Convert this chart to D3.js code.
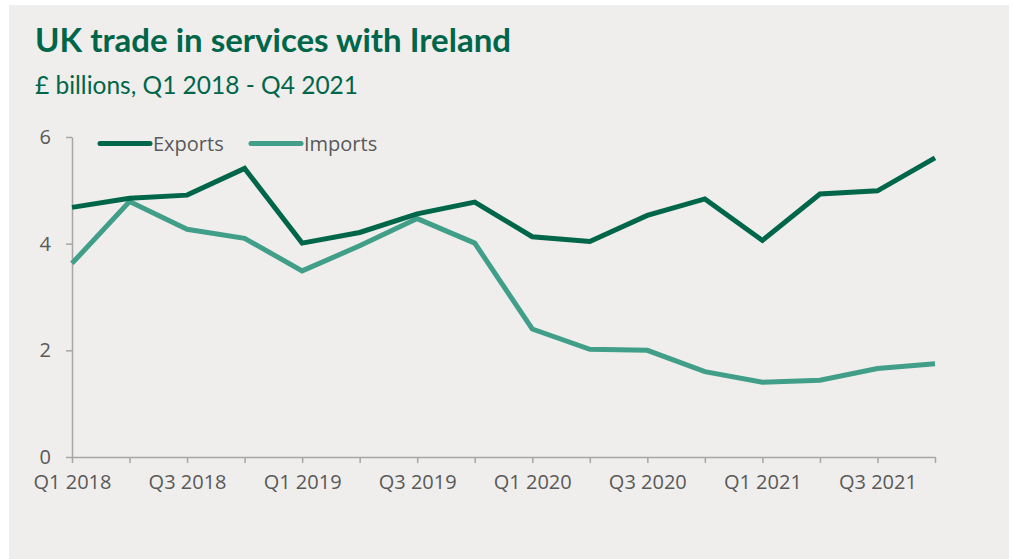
<!DOCTYPE html>
<html>
<head>
<meta charset="utf-8">
<script src="https://cdn.jsdelivr.net/npm/d3@7"></script>
<style>
  html, body { margin: 0; padding: 0; background: #ffffff; }
  svg { display: block; }
</style>
</head>
<body>
<svg id="chart" width="1013" height="559"></svg>
<script>
// Quarterly UK trade in services with Ireland, £ billions
const quarters = [
  "Q1 2018", "Q2 2018", "Q3 2018", "Q4 2018",
  "Q1 2019", "Q2 2019", "Q3 2019", "Q4 2019",
  "Q1 2020", "Q2 2020", "Q3 2020", "Q4 2020",
  "Q1 2021", "Q2 2021", "Q3 2021", "Q4 2021"
];
const exportsValues = [4.68, 4.85, 4.91, 5.41, 4.01, 4.21, 4.56, 4.78, 4.13, 4.04, 4.53, 4.84, 4.06, 4.93, 4.99, 5.61];
const importsValues = [3.63, 4.79, 4.27, 4.10, 3.49, 3.96, 4.47, 4.01, 2.40, 2.02, 2.00, 1.60, 1.40, 1.44, 1.66, 1.75];
const yTicks = [0, 2, 4, 6];
const xTickLabels = ["Q1 2018", "Q3 2018", "Q1 2019", "Q3 2019", "Q1 2020", "Q3 2020", "Q1 2021", "Q3 2021"];

const seriesList = [
  { name: "Exports", values: exportsValues, color: "#00664a" },
  { name: "Imports", values: importsValues, color: "#419e88" }
];

const svg = d3.select("#chart");
const W = 1013, H = 559;
const margin = { left: 72, right: 78, top: 137, bottom: 102 };

// Panel background
svg.append("rect")
  .attr("x", 9).attr("y", 5)
  .attr("width", 1000).attr("height", H - 5)
  .attr("fill", "#efeeec");

// Title and subtitle
svg.append("text")
  .attr("x", 35).attr("y", 52)
  .attr("font-family", "Lato, 'Noto Sans', sans-serif")
  .attr("font-weight", 700)
  .attr("font-size", 33)
  .attr("fill", "#00664a")
  .text("UK trade in services with Ireland");

svg.append("text")
  .attr("x", 35).attr("y", 94)
  .attr("font-family", "Lato, 'Noto Sans', sans-serif")
  .attr("font-size", 24.5)
  .attr("fill", "#00664a")
  .text("£ billions, Q1 2018 - Q4 2021");

const x = d3.scalePoint()
  .domain(quarters)
  .range([margin.left, W - margin.right]);

const y = d3.scaleLinear()
  .domain([0, 6])
  .range([H - margin.bottom, margin.top]);

const axisColor = "#a6a6a6";
const labelColor = "#595959";
const tickFont = "'Open Sans', 'Noto Sans', sans-serif";

// Y axis
const yAxis = svg.append("g")
  .attr("transform", `translate(${margin.left},0)`)
  .call(d3.axisLeft(y).tickValues(yTicks).tickSize(6).tickSizeOuter(0).tickPadding(15).tickFormat(d3.format("d")));

// X axis
const xAxis = svg.append("g")
  .attr("transform", `translate(0,${H - margin.bottom})`)
  .call(d3.axisBottom(x)
    .tickSize(6).tickSizeOuter(0).tickPadding(12)
    .tickFormat(d => xTickLabels.includes(d) ? d : ""));

[yAxis, xAxis].forEach(g => {
  g.select(".domain").attr("stroke", axisColor).attr("stroke-width", 1.5);
  g.selectAll(".tick line").attr("stroke", axisColor).attr("stroke-width", 1.5);
  g.selectAll(".tick text")
    .attr("fill", labelColor)
    .attr("font-family", tickFont)
    .attr("font-size", 20);
});

// Series lines
const line = d3.line()
  .x((d, i) => x(quarters[i]))
  .y(d => y(d));

seriesList.slice().reverse().forEach(s => {
  svg.append("path")
    .datum(s.values)
    .attr("fill", "none")
    .attr("stroke", s.color)
    .attr("stroke-width", 5)
    .attr("stroke-linejoin", "miter")
    .attr("d", line);
});

// Legend
const legendItems = [
  { s: seriesList[0], x0: 100 },
  { s: seriesList[1], x0: 251 }
];
const legendY = 143.5;
legendItems.forEach(({ s, x0 }) => {
  svg.append("line")
    .attr("x1", x0).attr("x2", x0 + 50)
    .attr("y1", legendY).attr("y2", legendY)
    .attr("stroke", s.color)
    .attr("stroke-width", 5)
    .attr("stroke-linecap", "round");
  svg.append("text")
    .attr("x", x0 + 53).attr("y", legendY)
    .attr("dy", "0.35em")
    .attr("font-family", tickFont)
    .attr("font-size", 20)
    .attr("fill", labelColor)
    .text(s.name);
});
</script>
</body>
</html>
